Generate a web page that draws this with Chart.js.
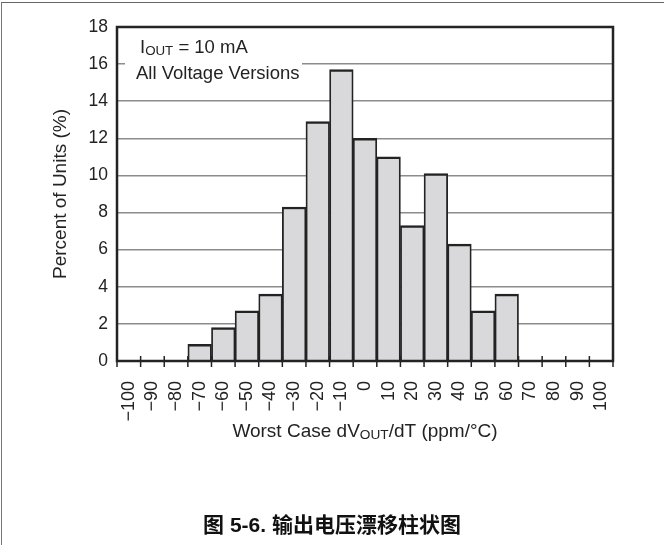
<!DOCTYPE html>
<html>
<head>
<meta charset="utf-8">
<script src="https://cdn.jsdelivr.net/npm/chart.js@4"></script>
<style>
    body { margin: 0; background: #fff; }
    #wrap { position: relative; width: 664px; height: 545px; overflow: hidden; }
    #edge { position: absolute; left: 1px; top: 2px; width: 663px; height: 543px;
            border-top: 1px solid #666; border-left: 1px solid #777; }
    #chart { position: absolute; left: 0; top: 0; }
    #caption { position: absolute; left: 0; top: 514px; width: 664px; text-align: center;
               font: bold 21px "Liberation Sans", "Noto Sans CJK SC", sans-serif; line-height: 22px; color: #111; }
</style>
</head>
<body>
<div id="wrap">
    <div id="edge"></div>
    <canvas id="chart" width="664" height="545"></canvas>
    <div id="caption">图 5-6. 输出电压漂移柱状图</div>
</div>
<script>
// Bin labels (ppm/°C)
const binLabels = ['\u2212100', '\u221290', '\u221280', '\u221270', '\u221260', '\u221250', '\u221240',
    '\u221230', '\u221220', '\u221210', '0', '10', '20', '30', '40', '50', '60', '70', '80', '90', '100'];
// Percent of units in each bin
const percentUnits = [0, 0, 0, 0.9, 1.8, 2.7, 3.6, 8.3, 12.9, 15.7, 12.0, 11.0, 7.3, 10.1, 6.3, 2.7, 3.6, 0, 0, 0, 0];
const yTicks = { min: 0, max: 18, step: 2 };

const FONT = '"Liberation Sans", Arial, sans-serif';
const INK = '#232323';

// draws text with subscript parts, e.g. [['I'], ['OUT', true], [' = 10 mA']]
function drawParts(ctx, parts, x, y, size, align) {
    let total = 0;
    parts.forEach(p => {
        ctx.font = (p[1] ? size * 0.72 : size) + 'px ' + FONT;
        total += ctx.measureText(p[0]).width;
    });
    let cx = align === 'center' ? x - total / 2 : x;
    ctx.textAlign = 'left';
    ctx.textBaseline = 'alphabetic';
    parts.forEach(p => {
        ctx.font = (p[1] ? size * 0.72 : size) + 'px ' + FONT;
        ctx.fillText(p[0], cx, p[1] ? y + 2 : y);
        cx += ctx.measureText(p[0]).width;
    });
}

const decor = {
    id: 'decor',
    beforeDatasetsDraw(chart) {
        const ctx = chart.ctx;
        // white box behind the note
        ctx.save();
        ctx.fillStyle = '#fff';
        ctx.fillRect(125, 36, 177, 48);
        ctx.restore();
    },
    afterDatasetsDraw(chart) {
        const ctx = chart.ctx;
        const a = chart.chartArea;
        const xs = chart.scales.x;
        ctx.save();
        // tick marks on bin edges
        ctx.strokeStyle = INK;
        ctx.lineWidth = 1.5;
        const w = xs.getPixelForValue(1) - xs.getPixelForValue(0);
        for (let i = 0; i <= binLabels.length; i++) {
            const px = xs.getPixelForValue(0) - w / 2 + i * w;
            ctx.beginPath();
            ctx.moveTo(px, a.bottom - 5);
            ctx.lineTo(px, a.bottom + 6);
            ctx.stroke();
        }
        // frame
        ctx.lineWidth = 2.5;
        ctx.strokeRect(a.left, a.top, a.right - a.left, a.bottom - a.top);

        // note
        ctx.fillStyle = INK;
        drawParts(ctx, [['I'], ['OUT', true], [' = 10 mA']], 140, 53, 18.5, 'left');
        drawParts(ctx, [['All Voltage Versions']], 136, 79, 18.5, 'left');

        // x axis title
        drawParts(ctx, [['Worst Case dV'], ['OUT', true], ['/dT (ppm/\u00B0C)']],
            (a.left + a.right) / 2, 437, 19, 'center');
        ctx.restore();
    }
};

const ctx = document.getElementById('chart').getContext('2d');

const histChart = new Chart(ctx, {
    type: 'bar',
    data: {
        labels: binLabels,
        datasets: [{
            label: 'Percent of Units',
            data: percentUnits,
            backgroundColor: '#d9d9db',
            borderColor: INK,
            borderWidth: { top: 2.5, left: 1.8, right: 1.8, bottom: 0 },
            categoryPercentage: 1.0,
            barPercentage: 1.0
        }]
    },
    options: {
        responsive: false,
        animation: false,
        layout: {
            padding: { top: 27, right: 51, left: 49, bottom: 103 }
        },
        plugins: {
            legend: { display: false },
            tooltip: { enabled: false }
        },
        scales: {
            x: {
                grid: { display: false },
                border: { display: false },
                ticks: {
                    minRotation: 90,
                    maxRotation: 90,
                    autoSkip: false,
                    padding: 12,
                    color: INK,
                    font: { family: FONT, size: 18 }
                },
                afterFit: function(scale) {
                    scale.height = 81;
                }
            },
            y: {
                min: yTicks.min,
                max: yTicks.max,
                grid: {
                    color: '#8c8c8c',
                    lineWidth: 1.5,
                    drawTicks: false
                },
                border: { display: false },
                ticks: {
                    stepSize: yTicks.step,
                    padding: 9,
                    color: INK,
                    font: { family: FONT, size: 17.5 }
                },
                title: {
                    display: true,
                    text: 'Percent of Units (%)',
                    color: INK,
                    padding: 0,
                    font: { family: FONT, size: 19 }
                },
                afterFit: function(scale) {
                    scale.width = 68;
                }
            }
        }
    },
    plugins: [decor]
});
</script>
</body>
</html>
